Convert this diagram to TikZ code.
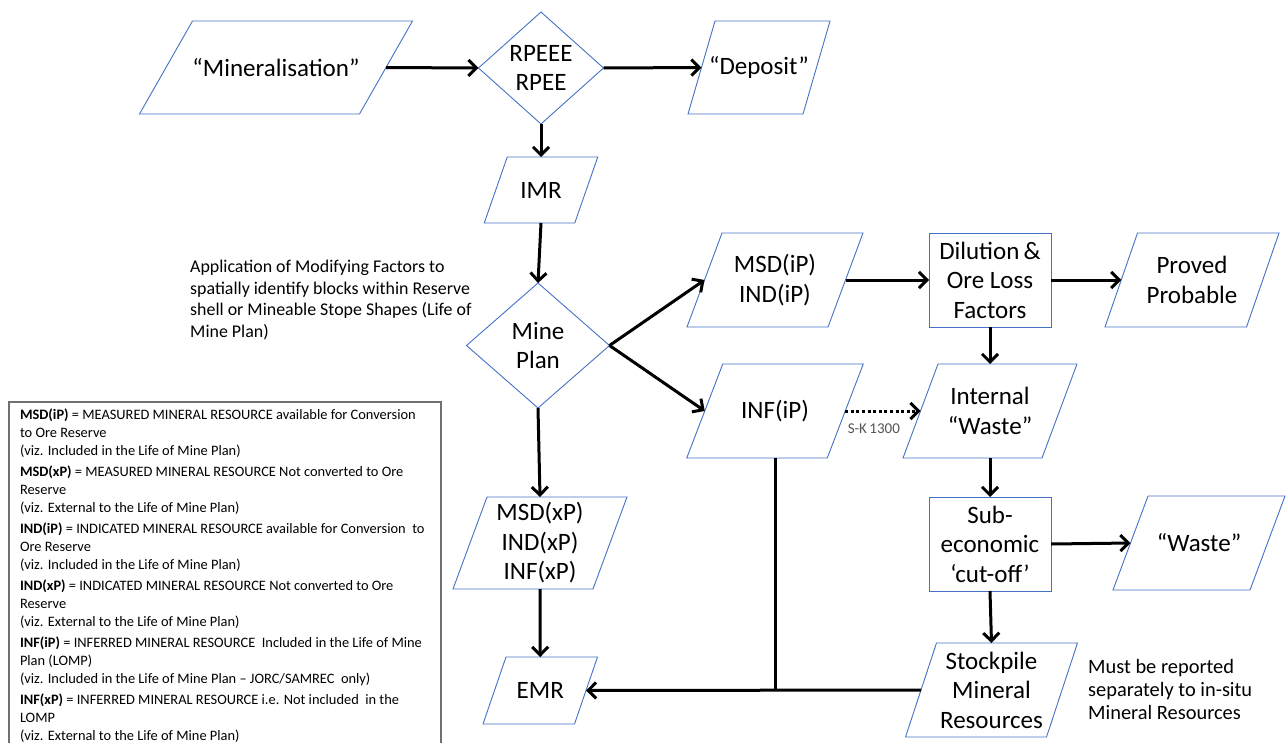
\documentclass[tikz,border=0pt]{standalone}
\usepackage{fontspec}
\setmainfont{Carlito}
\usetikzlibrary{arrows.meta,shapes.geometric,calc}
\definecolor{boxblue}{RGB}{68,114,196}
\definecolor{legendgray}{RGB}{112,112,112}
\definecolor{skgray}{RGB}{85,85,85}
\newcommand\drawpara[2]{\draw[boxline] ($(#1.south west)+(-#2,0)$) -- ($(#1.north west)+(#2,0)$) -- ($(#1.north east)+(#2,0)$) -- ($(#1.south east)+(-#2,0)$) -- cycle;}
\tikzset{
  boxline/.style={draw=boxblue, line width=0.9pt, line join=miter},
  para/.style={inner sep=0pt, outer sep=0pt, align=center},
  rectbox/.style={draw=boxblue, line width=0.9pt, inner sep=0pt, outer sep=0pt, align=center},
  diabox/.style={shape=diamond, draw=boxblue, line width=0.9pt, inner sep=0pt, outer sep=0pt},
  diatext/.style={align=center, inner sep=0pt},
  arr/.style={line width=3pt, -{Straight Barb[length=8pt,width=16pt]}},
  dotarr/.style={line width=3pt, dash pattern=on 3pt off 2.6pt, -{Straight Barb[length=8pt,width=16pt]}},
  plainline/.style={line width=3pt},
  legendline/.style={draw=legendgray, line width=1.1pt},
  legendtext/.style={font=\fontsize{14.4}{18}\selectfont, align=left, inner xsep=11pt, inner ysep=7pt, outer sep=0pt},
  notetext/.style={align=left, inner sep=0pt},
  sklabel/.style={font=\fontsize{15}{16}\selectfont, text=skgray, inner sep=0pt}
}
\begin{document}
\begin{tikzpicture}[x=1pt, y=-1pt, font=\fontsize{25}{29.5}\selectfont]
\fill[white] (0,0) rectangle (1288,742);
\useasboundingbox (0,0) rectangle (1288,742);

% parallelogram nodes
\node[para, minimum width=220pt, minimum height=93pt] (min) at (276,67.5) {“Mineralisation”};
\drawpara{min}{26.5}
\node[para, minimum width=115pt, minimum height=93pt] (dep) at (759,67.5) {“Deposit”};
\drawpara{dep}{13.5}
\node[para, minimum width=90.5pt, minimum height=66pt] (imr) at (541,190) {IMR};
\drawpara{imr}{11.5}
\node[para, minimum width=141pt, minimum height=94pt] (msdip) at (775,280) {MSD(iP)\\IND(iP)};
\drawpara{msdip}{17.5}
\node[para, minimum width=140.5pt, minimum height=94pt] (infip) at (775,411) {INF(iP)};
\drawpara{infip}{18}
\node[para, minimum width=141.5pt, minimum height=94pt] (prov) at (1192,280) {Proved\\Probable};
\drawpara{prov}{16.25}
\node[para, minimum width=139pt, minimum height=94pt] (iw) at (990,411) {Internal\\“Waste”};
\drawpara{iw}{17.5}
\node[para, minimum width=137pt, minimum height=94pt] (waste) at (1199,543) {“Waste”};
\drawpara{waste}{17.5}
\node[para, minimum width=141pt, minimum height=94pt] (stock) at (991.5,690) {Stockpile\\Mineral\\Resources};
\drawpara{stock}{15.5}
\node[para, minimum width=140pt, minimum height=92pt] (msdxp) at (540,543) {MSD(xP)\\IND(xP)\\INF(xP)};
\drawpara{msdxp}{17}
\node[para, minimum width=91.5pt, minimum height=67pt] (emr) at (540.25,690.5) {EMR};
\drawpara{emr}{11.5}

% rectangles
\node[rectbox, minimum width=122pt, minimum height=94pt] (dil) at (990,280) {Dilution\,\&\\Ore Loss\\Factors};
\node[rectbox, minimum width=122pt, minimum height=94pt] (sub) at (990,544) {Sub-\\economic\\‘cut-off’};

% diamonds
\node[diabox, minimum width=125pt, minimum height=112pt] (rp) at (541,68) {};
\node[diatext] (rpt) at (rp) {RPEEE\\RPEE};
\node[diabox, minimum width=143pt, minimum height=125pt] (mp) at (538,345.5) {};
\node[diatext] (mpt) at (mp) {Mine\\Plan};

% notes
\node[notetext, anchor=west, font=\fontsize{17.9}{21.6}\selectfont] (note1) at (190,300) {Application of Modifying Factors to\\spatially identify blocks within Reserve\\shell or Mineable Stope Shapes (Life of\\Mine Plan)};
\node[notetext, anchor=west, font=\fontsize{20.4}{23}\selectfont] (note2) at (1088,689) {Must be reported\\separately to in-situ\\Mineral Resources};

% legend
\draw[legendline] (9,760) |- (441,402) -- (441,760);
\node[legendtext, anchor=north west] (legend) at (9,402) {%
\textbf{MSD(iP)} = MEASURED MINERAL RESOURCE available for Conversion\\
to Ore Reserve\\
(viz. Included in the Life of Mine Plan)\\[3pt]
\textbf{MSD(xP)} = MEASURED MINERAL RESOURCE Not converted to Ore\\
Reserve\\
(viz. External to the Life of Mine Plan)\\[3pt]
\textbf{IND(iP)} = INDICATED MINERAL RESOURCE available for Conversion~ to\\
Ore Reserve\\
(viz. Included in the Life of Mine Plan)\\[3pt]
\textbf{IND(xP)} = INDICATED MINERAL RESOURCE Not converted to Ore\\
Reserve\\
(viz. External to the Life of Mine Plan)\\[3pt]
\textbf{INF(iP)} = INFERRED MINERAL RESOURCE~ Included in the Life of Mine\\
Plan (LOMP)\\
(viz. Included in the Life of Mine Plan -- JORC/SAMREC~ only)\\[3pt]
\textbf{INF(xP)} = INFERRED MINERAL RESOURCE i.e. Not included~ in the\\
LOMP\\
(viz. External to the Life of Mine Plan)};

% connectors
\draw[arr] (min.east) -- (rp.west);
\draw[arr] (rp.east) -- (dep.west);
\draw[arr] (rp.south) -- (imr.north);
\draw[arr] (imr.south) -- (mp.north);
\draw[arr] (mp.east) -- (msdip.west);
\draw[arr] (mp.east) -- (infip.west);
\draw[arr] (mp.south) -- (msdxp.north);
\draw[arr] (msdxp.south) -- (emr.north);
\draw[arr] (msdip.east) -- (dil.west);
\draw[arr] (dil.east) -- (prov.west);
\draw[arr] (dil.south) -- (iw.north);
\draw[dotarr] (infip.east) -- node[sklabel, pos=0.38, below=11pt] (sk) {S-K\,1300} (iw.west);
\draw[arr] (iw.south) -- (sub.north);
\draw[arr] (sub.east) -- (waste.west);
\draw[arr] (sub.south) -- (stock.north);
\coordinate (jn) at (infip.south |- stock.west);
\draw[plainline] (infip.south) -- (jn);
\draw[arr] (stock.west) -- (emr.east);
\end{tikzpicture}
\end{document}
